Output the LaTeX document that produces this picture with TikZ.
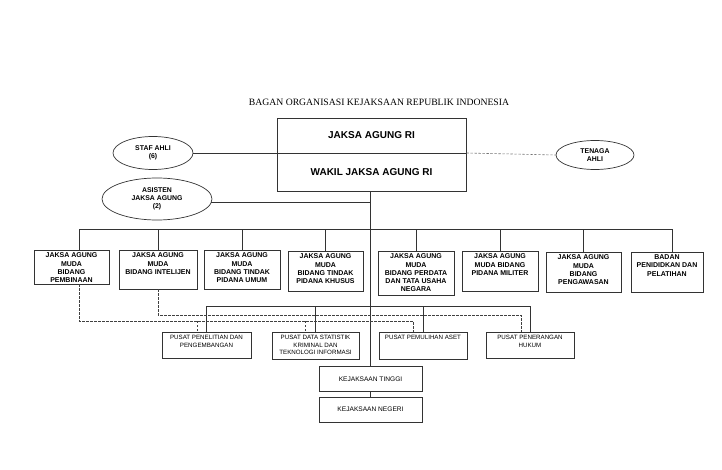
\documentclass[tikz,border=0pt]{standalone}
\usepackage{fontspec}
\setmainfont{Liberation Sans}
\newfontfamily\titlefont{Liberation Serif}
\usetikzlibrary{shapes.geometric}
\begin{document}
\begin{tikzpicture}[x=1pt,y=-1pt,
  ln/.style={draw=black!80, line width=0.7pt},
  dsh/.style={draw=black!75, line width=0.6pt, dash pattern=on 2.4pt off 1.6pt},
  box/.style={draw=black!80, line width=0.7pt, rectangle, inner sep=0pt},
  oval/.style={draw=black!80, line width=0.7pt, ellipse, inner sep=0pt, align=center, font=\bfseries\fontsize{6.9}{8}\selectfont},
  blbl/.style={anchor=north, inner sep=0pt, align=center, font=\bfseries\fontsize{7}{8.3}\selectfont},
  rlbl/.style={anchor=north, inner sep=0pt, align=center, font=\fontsize{6.2}{7.9}\selectfont},
  clbl/.style={inner sep=0pt, align=center, font=\fontsize{6.6}{8}\selectfont},
  toplbl/.style={inner sep=0pt, font=\bfseries\fontsize{10}{12}\selectfont}
]
\useasboundingbox (0,0) rectangle (722,470);

% title
\node[inner sep=0pt, font=\titlefont\fontsize{9.7}{11}\selectfont] (title) at (379,102) {BAGAN ORGANISASI KEJAKSAAN REPUBLIK INDONESIA};

% top box
\node[box, minimum width=189pt, minimum height=73pt] (top) at (371.5,154.5) {};
\node[toplbl] (jaksa) at (371.5,135) {JAKSA AGUNG RI};
\node[toplbl] (wakil) at (371.5,172) {WAKIL JAKSA AGUNG RI};

% ellipses
\node[oval, minimum width=80pt, minimum height=33pt] (staf) at (153,153) {STAF AHLI\\(6)};
\node[oval, minimum width=78pt, minimum height=29pt] (tenaga) at (595,155) {TENAGA\\AHLI};
\node[oval, minimum width=110pt, minimum height=42pt] (asisten) at (157,199) {ASISTEN\\JAKSA AGUNG\\(2)};

% level 2 boxes
\node[box, minimum width=75pt, minimum height=34pt] (b1) at (71.5,267) {};
\node[box, minimum width=78pt, minimum height=39pt] (b2) at (158,269.5) {};
\node[box, minimum width=76pt, minimum height=39pt] (b3) at (242,269.5) {};
\node[box, minimum width=75pt, minimum height=40pt] (b4) at (325.5,271) {};
\node[box, minimum width=76pt, minimum height=44pt] (b5) at (416,273) {};
\node[box, minimum width=76pt, minimum height=40pt] (b6) at (500,271) {};
\node[box, minimum width=75pt, minimum height=40pt] (b7) at (583.5,272) {};
\node[box, minimum width=72pt, minimum height=40pt] (b8) at (667,272) {};

\node[blbl] (t1) at ([yshift=-3pt]b1.north) {JAKSA AGUNG\\MUDA\\BIDANG\\PEMBINAAN};
\node[blbl] (t2) at ([yshift=-3pt]b2.north) {JAKSA AGUNG\\MUDA\\BIDANG INTELIJEN};
\node[blbl] (t3) at ([yshift=-3pt]b3.north) {JAKSA AGUNG\\MUDA\\BIDANG TINDAK\\PIDANA UMUM};
\node[blbl] (t4) at ([yshift=-3pt]b4.north) {JAKSA AGUNG\\MUDA\\BIDANG TINDAK\\PIDANA KHUSUS};
\node[blbl] (t5) at ([yshift=-3pt]b5.north) {JAKSA AGUNG\\MUDA\\BIDANG PERDATA\\DAN TATA USAHA\\NEGARA};
\node[blbl] (t6) at ([yshift=-3pt]b6.north) {JAKSA AGUNG\\MUDA BIDANG\\PIDANA MILITER};
\node[blbl] (t7) at ([yshift=-3pt]b7.north) {JAKSA AGUNG\\MUDA\\BIDANG\\PENGAWASAN};
\node[blbl] (t8) at ([yshift=-3pt]b8.north) {BADAN\\PENIDIDKAN DAN\\PELATIHAN};

% level 3 boxes
\node[box, minimum width=89pt, minimum height=26pt] (pA) at (206.5,345) {};
\node[box, minimum width=87pt, minimum height=27pt] (pB) at (315.5,345.5) {};
\node[box, minimum width=88pt, minimum height=27pt] (pC) at (423,345.5) {};
\node[box, minimum width=88pt, minimum height=26pt] (pD) at (530,345) {};

\node[rlbl] (tA) at ([yshift=-3pt]pA.north) {PUSAT PENELITIAN DAN\\PENGEMBANGAN};
\node[rlbl] (tB) at ([yshift=-3pt]pB.north) {PUSAT DATA STATISTIK\\KRIMINAL DAN\\TEKNOLOGI INFORMASI};
\node[rlbl] (tC) at ([yshift=-3pt]pC.north) {PUSAT PEMULIHAN ASET};
\node[rlbl] (tD) at ([yshift=-3pt]pD.north) {PUSAT PENERANGAN\\HUKUM};

% bottom boxes
\node[box, minimum width=103pt, minimum height=25pt] (tinggi) at (370.5,379) {};
\node[clbl] (ttinggi) at (tinggi.center) {KEJAKSAAN TINGGI};
\node[box, minimum width=103pt, minimum height=25pt] (negeri) at (370.5,409.5) {};
\node[clbl] (tnegeri) at (negeri.center) {KEJAKSAAN NEGERI};

% coordinates
\coordinate (bus2) at (370.7,229.5);
\coordinate (bus3) at (370.7,306.7);
\coordinate (dl) at (0,321);
\coordinate (du) at (0,315);
\coordinate (b1d) at ([xshift=7.5pt]b1.north);
\coordinate (b1s) at ([xshift=7.5pt]b1.south);
\coordinate (b8d) at ([xshift=5.7pt]b8.north);
\coordinate (pAd) at ([xshift=-9.5pt]pA.north);
\coordinate (pBd) at ([xshift=-10.5pt]pB.north);
\coordinate (pCd) at ([xshift=-10pt]pC.north);
\coordinate (pDd) at ([xshift=-9pt]pD.north);

% solid connectors
\draw[ln] (staf.east) -- (staf.east -| top.east);
\draw[dsh, draw=black!55] (staf.east -| top.east) -- (tenaga.west);
\draw[ln] (top.south -| bus2) -- (tinggi.north -| bus2);
\draw[ln] (asisten.-4) -- (asisten.-4 -| bus2);
\draw[ln] (b1d) |- (bus2) -| (b8d);
\foreach \b in {b2,b3,b4,b5,b6,b7} {
  \draw[ln] (\b.north) -- (\b.north |- bus2);
}
\draw[ln] (pA.north) |- (bus3) -| (pD.north);
\draw[ln] (pB.north) -- (pB.north |- bus3);
\draw[ln] (pC.north) -- (pC.north |- bus3);
\draw[ln] (tinggi.south) -- (negeri.north);

% dashed connectors
\draw[dsh] (b1s) |- (pCd |- dl) -- (pCd);
\draw[dsh] (pAd |- dl) -- (pAd);
\draw[dsh] (pBd |- dl) -- (pBd);
\draw[dsh] (b2.south) |- (pDd |- du) -- (pDd);
\end{tikzpicture}
\end{document}
